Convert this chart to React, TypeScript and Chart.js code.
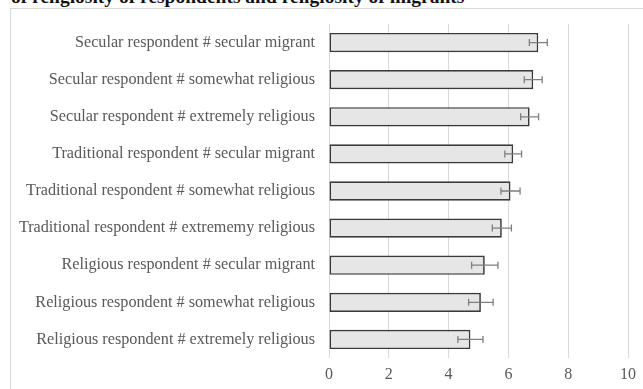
import React, { useEffect, useRef } from "react";
import { Chart, registerables } from "chart.js";

Chart.register(...registerables);

// Interaction categories, top to bottom
const categories: string[] = [
  "Secular respondent # secular migrant",
  "Secular respondent # somewhat religious",
  "Secular respondent # extremely religious",
  "Traditional respondent # secular migrant",
  "Traditional respondent # somewhat religious",
  "Traditional respondent # extrememy religious",
  "Religious respondent # secular migrant",
  "Religious respondent # somewhat religious",
  "Religious respondent # extremely religious",
];

// Mean score per category
const means: number[] = [7.0, 6.83, 6.71, 6.16, 6.07, 5.78, 5.21, 5.08, 4.73];

// Half-width of each error bar
const errors: number[] = [0.3, 0.3, 0.3, 0.28, 0.32, 0.32, 0.44, 0.41, 0.42];

// Horizontal axis ticks
const xTicks: number[] = [0, 2, 4, 6, 8, 10];

const titleText = "of religiosity of respondents and religiosity of migrants";

const FONT = "'Liberation Serif', 'Times New Roman', serif";
const TEXT_GRAY = "#595959";

const errorBarPlugin = {
  id: "errorBars",
  afterDatasetsDraw(chart: any) {
    const meta = chart.getDatasetMeta(0);
    const xScale = chart.scales.x;
    const ctx = chart.ctx as CanvasRenderingContext2D;
    const cap = 3.5;
    ctx.save();
    ctx.strokeStyle = "#7f7f7f";
    ctx.lineWidth = 1.3;
    meta.data.forEach((bar: any, i: number) => {
      const y = bar.y;
      const lo = xScale.getPixelForValue(means[i] - errors[i]);
      const hi = xScale.getPixelForValue(means[i] + errors[i]);
      ctx.beginPath();
      ctx.moveTo(lo, y);
      ctx.lineTo(hi, y);
      ctx.moveTo(lo, y - cap);
      ctx.lineTo(lo, y + cap);
      ctx.moveTo(hi, y - cap);
      ctx.lineTo(hi, y + cap);
      ctx.stroke();
    });
    ctx.restore();
  },
};

export default function App() {
  const canvasRef = useRef<HTMLCanvasElement | null>(null);

  useEffect(() => {
    if (!canvasRef.current) return;
    const chart = new Chart(canvasRef.current, {
      type: "bar",
      data: {
        labels: categories,
        datasets: [
          {
            data: means,
            backgroundColor: "#e6e6e6",
            borderColor: "#3a3a3a",
            borderWidth: 1.7,
            borderSkipped: false,
            barPercentage: 0.52,
            categoryPercentage: 1,
          },
        ],
      },
      options: {
        indexAxis: "y",
        responsive: false,
        animation: false,
        events: [],
        layout: { padding: { left: 0, right: 12, top: 24, bottom: 0 } },
        plugins: {
          legend: { display: false },
          tooltip: { enabled: false },
          title: { display: false },
        },
        scales: {
          x: {
            type: "linear",
            min: 0,
            max: 10,
            afterFit: (scale: any) => {
              scale.height = 31;
            },
            afterBuildTicks: (scale: any) => {
              scale.ticks = xTicks.map((v) => ({ value: v }));
            },
            grid: {
              color: "#d9d9d9",
              lineWidth: 1,
              drawTicks: false,
            },
            border: { display: false },
            ticks: {
              padding: 7,
              color: TEXT_GRAY,
              font: { family: FONT, size: 16 },
            },
          },
          y: {
            afterFit: (scale: any) => {
              scale.width = 329;
            },
            grid: { display: false, drawTicks: false },
            border: { display: false },
            ticks: {
              padding: 14,
              color: TEXT_GRAY,
              font: { family: FONT, size: 16.2 },
            },
          },
        },
      },
      plugins: [errorBarPlugin],
    } as any);
    return () => chart.destroy();
  }, []);

  return (
    <div
      style={{
        position: "fixed",
        left: 0,
        top: 0,
        width: 643,
        height: 389,
        overflow: "hidden",
        background: "#ffffff",
      }}
    >
      <div
        style={{
          position: "absolute",
          left: 10,
          top: 8,
          width: 650,
          height: 400,
          border: "1px solid #d9d9d9",
          boxSizing: "border-box",
        }}
      />
      <div
        style={{
          position: "absolute",
          left: 11,
          top: -13.3,
          fontFamily: FONT,
          fontWeight: "bold",
          fontSize: 19.5,
          lineHeight: "19.5px",
          color: "#111111",
          whiteSpace: "nowrap",
        }}
      >
        {titleText}
      </div>
      <canvas
        ref={canvasRef}
        width={643}
        height={389}
        style={{ position: "absolute", left: 0, top: 0 }}
      />
    </div>
  );
}
